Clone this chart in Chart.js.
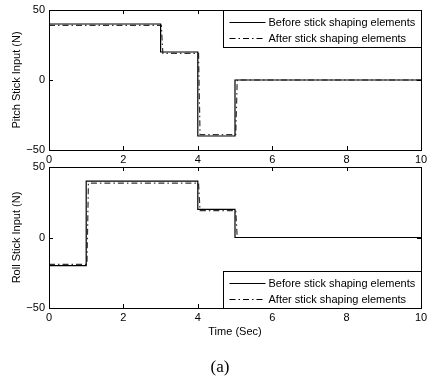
<!DOCTYPE html>
<html>
<head>
<meta charset="utf-8">
<script src="https://cdn.jsdelivr.net/npm/chart.js@4.4.0/dist/chart.umd.min.js"></script>
<style>
  body { margin: 0; background: #fff; }
  #wrap { position: relative; width: 427px; height: 385px; }
  .box { position: absolute; left: 0; width: 427px; }
  #top { top: 0; height: 168px; }
  #bot { top: 157px; height: 190px; }
  #cap { position: absolute; left: 0; width: 440px; top: 357px; text-align: center;
         font-family: "Liberation Serif", serif; font-size: 17px; color: #000; }
</style>
</head>
<body>
<div id="wrap">
  <div class="box" id="top"><canvas id="pitchChart"></canvas></div>
  <div class="box" id="bot"><canvas id="rollChart"></canvas></div>
  <div id="cap">(a)</div>
</div>
<script>
// step changes: value holds from that time onward
const beforeTime = [0, 3, 4, 5, 10];
const beforePitch = [40, 20, -40, 0, 0];
const beforeRollTime = [0, 1, 4, 5, 10];
const beforeRoll = [-20, 40, 20, 0, 0];

// shaped signal, slightly lagged and reduced
const afterPitchTime = [0, 3.02, 3.06, 4.02, 4.06, 5.02, 5.06, 10];
const afterPitch = [39, 39, 19, 19, -39, -39, 0, 0];
const afterRollTime = [0, 1.02, 1.06, 4.02, 4.06, 5.02, 5.06, 10];
const afterRoll = [-19, -19, 38.5, 38.5, 19, 19, 0, 0];

const xTicks = [0, 2, 4, 6, 8, 10];
const yTicks = [-50, 0, 50];
const legendLabels = ['Before stick shaping elements', 'After stick shaping elements'];

const FONT = 'Liberation Sans, Arial, sans-serif';
const DASH = [6, 3, 1.5, 3];

function pts(xs, ys) {
  return xs.map((x, i) => ({ x: x, y: ys[i] }));
}

// frame, inward ticks and boxed legend, matlab style
const matlabBox = {
  id: 'matlabBox',
  afterDatasetsDraw(chart, args, opts) {
    const c = chart.ctx;
    const a = chart.chartArea;
    const xs = chart.scales.x, ys = chart.scales.y;
    c.save();
    c.strokeStyle = '#000';
    c.lineWidth = 1;
    c.strokeRect(Math.round(a.left) + 0.5, Math.round(a.top) + 0.5,
                 Math.round(a.right - a.left), Math.round(a.bottom - a.top));
    c.beginPath();
    xTicks.forEach(t => {
      const px = Math.round(xs.getPixelForValue(t)) + 0.5;
      c.moveTo(px, a.top); c.lineTo(px, a.top + 4);
      c.moveTo(px, a.bottom); c.lineTo(px, a.bottom - 4);
    });
    yTicks.forEach(t => {
      const py = Math.round(ys.getPixelForValue(t)) + 0.5;
      c.moveTo(a.left, py); c.lineTo(a.left + 4, py);
      c.moveTo(a.right, py); c.lineTo(a.right - 4, py);
    });
    c.stroke();

    // legend box
    const w = 198, h = 37;
    const lx = Math.round(a.right) - w + 0.5;
    const ly = opts.where === 'top' ? Math.round(a.top) + 0.5 : Math.round(a.bottom) - h + 0.5;
    c.fillStyle = '#fff';
    c.fillRect(lx, ly, w, h);
    c.strokeRect(lx, ly, w, h);
    c.font = '11px ' + FONT;
    c.textBaseline = 'middle';
    c.fillStyle = '#000';
    legendLabels.forEach((lab, i) => {
      const yy = Math.round(ly + 11 + i * 16) + 0.5;
      c.beginPath();
      c.setLineDash(i === 0 ? [] : DASH);
      c.lineWidth = 1;
      c.moveTo(lx + 6, yy); c.lineTo(lx + 42, yy);
      c.stroke();
      c.setLineDash([]);
      c.fillText(lab, lx + 45, yy);
    });
    c.restore();
  }
};

function makeChart(id, bTime, bVals, aTime, aVals, yTitle, where, showXTitle) {
  const ctx = document.getElementById(id);
  return new Chart(ctx, {
    type: 'line',
    data: {
      datasets: [
        {
          label: legendLabels[0],
          data: pts(bTime, bVals),
          stepped: true,
          borderColor: '#000',
          borderWidth: 1.2,
          pointRadius: 0
        },
        {
          label: legendLabels[1],
          data: pts(aTime, aVals),
          borderColor: '#333',
          borderWidth: 1.2,
          borderDash: DASH,
          pointRadius: 0
        }
      ]
    },
    options: {
      responsive: true,
      maintainAspectRatio: false,
      animation: false,
      layout: { padding: { left: 0, right: 6, top: 10, bottom: 0 } },
      plugins: {
        legend: { display: false },
        tooltip: { enabled: false },
        matlabBox: { where: where }
      },
      scales: {
        x: {
          type: 'linear',
          min: 0, max: 10,
          afterBuildTicks: s => { s.ticks = xTicks.map(v => ({ value: v })); },
          afterFit: s => {
            s.height = showXTitle ? 39 : 18;
            s.paddingLeft = 0; s.paddingRight = 0;
          },
          grid: { display: false, drawTicks: false },
          border: { display: false },
          ticks: { color: '#000', font: { family: FONT, size: 11 }, padding: 3, maxRotation: 0 },
          title: {
            display: showXTitle,
            text: 'Time (Sec)',
            color: '#000',
            font: { family: FONT, size: 11 },
            padding: { top: 0, bottom: 8 }
          }
        },
        y: {
          min: -50, max: 50,
          afterBuildTicks: s => { s.ticks = yTicks.map(v => ({ value: v })); },
          afterFit: s => { s.width = 49; s.paddingTop = 0; s.paddingBottom = 0; },
          grid: { display: false, drawTicks: false },
          border: { display: false },
          ticks: {
            color: '#000', font: { family: FONT, size: 11 }, padding: 4,
            callback: v => String(v).replace('-', '\u2212')
          },
          title: {
            display: true,
            text: yTitle,
            color: '#000',
            font: { family: FONT, size: 11 },
            padding: { top: 10, bottom: 0 }
          }
        }
      }
    },
    plugins: [matlabBox]
  });
}

makeChart('pitchChart', beforeTime, beforePitch, afterPitchTime, afterPitch,
          'Pitch Stick Input (N)', 'top', false);
makeChart('rollChart', beforeRollTime, beforeRoll, afterRollTime, afterRoll,
          'Roll Stick Input (N)', 'bottom', true);
</script>
</body>
</html>
